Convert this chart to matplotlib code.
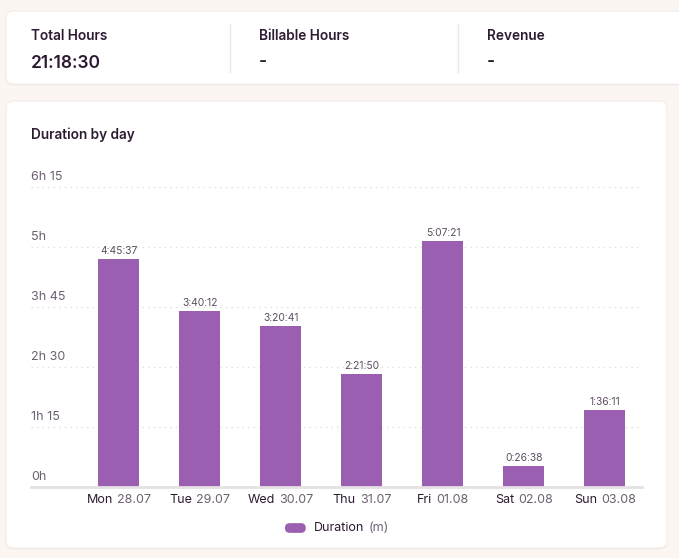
import matplotlib
matplotlib.use("Agg")
import matplotlib.pyplot as plt
from matplotlib.patches import FancyBboxPatch
from matplotlib.offsetbox import TextArea, HPacker, DrawingArea, AnnotationBbox
import matplotlib.transforms as mtransforms

plt.rcParams['font.family'] = ['Inter', 'DejaVu Sans']

# ---- data ----
days = ["Mon", "Tue", "Wed", "Thu", "Fri", "Sat", "Sun"]
dates = ["28.07", "29.07", "30.07", "31.07", "01.08", "02.08", "03.08"]
durations = ["4:45:37", "3:40:12", "3:20:41", "2:21:50", "5:07:21", "0:26:38", "1:36:11"]
y_ticks = [0, 75, 150, 225, 300, 375]
y_tick_labels = ["0h", "1h 15", "2h 30", "3h 45", "5h", "6h 15"]
summary_titles = ["Total Hours", "Billable Hours", "Revenue"]
summary_values = ["21:18:30", "-", "-"]
chart_title = "Duration by day"
series_name = "Duration"
series_unit = "(m)"


def to_minutes(s):
    h, m, sec = [int(p) for p in s.split(":")]
    return h * 60 + m + sec / 60.0


minutes = [to_minutes(d) for d in durations]

# ---- style ----
W, H = 679, 558
BG = "#fcf6f3"
CARD = "#ffffff"
DARK = "#2b1a31"
GREY = "#6e6072"
BAR = "#9b5fb1"
GRID = "#e2dde0"

fig = plt.figure(figsize=(W / 100, H / 100), dpi=100)
fig.patch.set_facecolor(BG)


def fx(x):
    return x / W


def fy(y):
    return 1 - y / H


def card(x0, y0, x1, y1):
    sh = FancyBboxPatch((fx(x0), fy(y1 + 1.5)), fx(x1 - x0), (y1 - y0) / H,
                        boxstyle="round,pad=0,rounding_size=0.012",
                        transform=fig.transFigure, facecolor="#f1e9e6",
                        edgecolor="none", zorder=0)
    fig.patches.append(sh)
    p = FancyBboxPatch((fx(x0), fy(y1)), fx(x1 - x0), (y1 - y0) / H,
                       boxstyle="round,pad=0,rounding_size=0.012",
                       transform=fig.transFigure, facecolor=CARD,
                       edgecolor="#f3ecea", linewidth=0.8, zorder=0.5)
    fig.patches.append(p)


card(6, 11, 690, 84)
card(6, 101, 667, 548)

xs = [31, 259, 487]
for i, (t, v) in enumerate(zip(summary_titles, summary_values)):
    fig.text(fx(xs[i]), fy(35.5), t, fontsize=9.8, fontweight="semibold",
             color=DARK, va="center", ha="left", zorder=3)
    fig.text(fx(xs[i]), fy(63), v, fontsize=12.5, fontweight="semibold",
             color=DARK, va="center", ha="left", zorder=3)
for xd in [230, 458]:
    fig.add_artist(plt.Line2D([fx(xd), fx(xd)], [fy(24), fy(72)],
                              transform=fig.transFigure, color="#ebe6e8", lw=1,
                              zorder=3))

fig.text(fx(31), fy(135), chart_title, fontsize=9.8, fontweight="semibold",
         color=DARK, va="center", ha="left", zorder=3)

# ---- axes ----
ax_l, ax_r, ax_b, ax_t = 31, 642, 487, 187
ax = fig.add_axes([fx(ax_l), fy(ax_b), (ax_r - ax_l) / W, (ax_b - ax_t) / H])
ax.set_zorder(5)
ax.set_facecolor("none")
x = list(range(len(days)))
ax.set_xlim(-1.086, 6.457)
ax.set_ylim(0, 375)

bars = ax.bar(x, minutes, width=41 / 81, color=BAR, zorder=3)

for s in ["top", "right", "left"]:
    ax.spines[s].set_visible(False)
ax.spines["bottom"].set_color("#e6e1e4")
ax.spines["bottom"].set_linewidth(2)
ax.spines["bottom"].set_zorder(4)
ax.tick_params(left=False, bottom=False, labelleft=False, labelbottom=False)

ax.set_yticks(y_ticks)
for yt in y_ticks[1:]:
    ax.axhline(yt, color=GRID, lw=1, ls=(0, (1, 3)), zorder=1, clip_on=False)

trans_y = mtransforms.blended_transform_factory(ax.transAxes, ax.transData)
for yt, lab in zip(y_ticks, y_tick_labels):
    ax.annotate(lab, xy=(0, yt), xycoords=trans_y, xytext=(0, 10),
                textcoords="offset pixels", ha="left", va="center",
                fontsize=9, color=GREY)

for xi, m, lab in zip(x, minutes, durations):
    ax.annotate(lab, xy=(xi, m), xytext=(0, 8), textcoords="offset pixels",
                ha="center", va="center", fontsize=7.4, color="#5d4d61")

for xi, d, dt in zip(x, days, dates):
    pack = HPacker(children=[
        TextArea(d, textprops=dict(fontsize=9, color=DARK)),
        TextArea(dt, textprops=dict(fontsize=9, color=GREY)),
    ], pad=0, sep=3, align="baseline")
    ab = AnnotationBbox(pack, (xi, 0), xycoords="data", xybox=(0, -13),
                        boxcoords="offset pixels", box_alignment=(0.5, 0.5),
                        frameon=False, annotation_clip=False, pad=0)
    ax.add_artist(ab)

# legend
da = DrawingArea(15, 7, 0, 0)
da.add_artist(FancyBboxPatch((0, 0), 15, 7, boxstyle="round,pad=0,rounding_size=3.5",
                             facecolor=BAR, edgecolor="none"))
txt = HPacker(children=[
    TextArea(series_name, textprops=dict(fontsize=9, color=DARK)),
    TextArea(series_unit, textprops=dict(fontsize=9, color=GREY)),
], pad=0, sep=3, align="baseline")
leg = HPacker(children=[da, txt], pad=0, sep=6, align="center")
ab = AnnotationBbox(leg, (fx(337), fy(528)), xycoords="figure fraction",
                    box_alignment=(0.5, 0.5), frameon=False, pad=0,
                    annotation_clip=False)
ab.set_zorder(6)
fig.add_artist(ab)

fig.savefig("out.png", dpi=100, facecolor=BG)
